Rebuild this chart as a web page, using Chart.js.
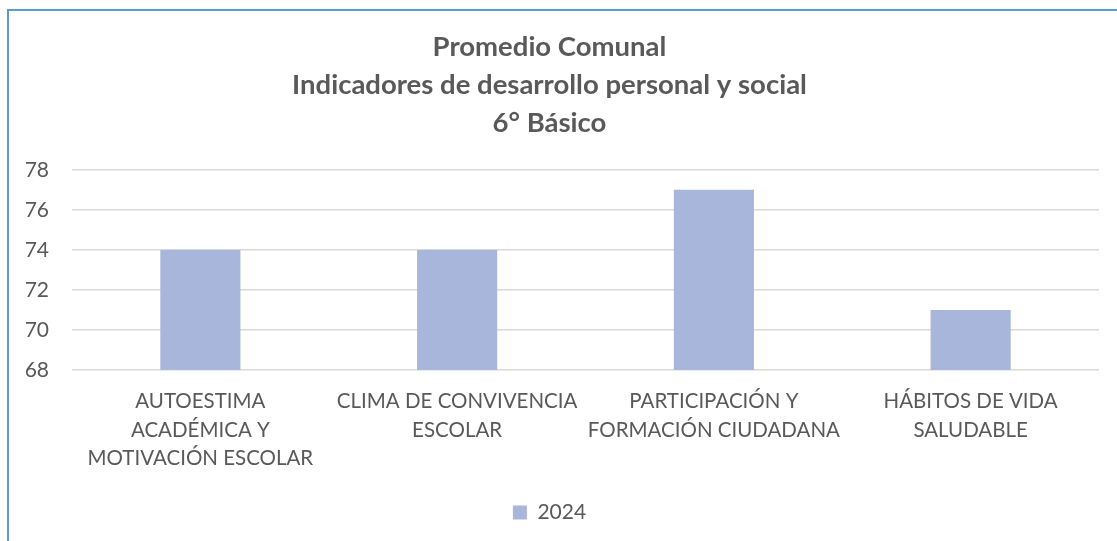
<!DOCTYPE html>
<html>
<head>
<meta charset="utf-8">
<script src="https://cdn.jsdelivr.net/npm/chart.js@4"></script>
<style>
    html, body { margin: 0; padding: 0; background: #fff; }
    #wrap { position: relative; width: 1117px; height: 541px; overflow: hidden; }
    #frame { position: absolute; left: 7px; top: 9px; width: 1200px; height: 600px;
             border-left: 2px solid #5B9BD5; border-top: 2px solid #5B9BD5; }
    #chart { position: absolute; left: 0; top: 0; }
</style>
</head>
<body>
<div id="wrap">
    <div id="frame"></div>
    <canvas id="chart" width="1117" height="541"></canvas>
</div>
<script>
const titleLines = ["Promedio Comunal", "Indicadores de desarrollo personal y social", "6° Básico"];
const categories = [
    ["AUTOESTIMA", "ACADÉMICA Y", "MOTIVACIÓN ESCOLAR"],
    ["CLIMA DE CONVIVENCIA", "ESCOLAR"],
    ["PARTICIPACIÓN Y", "FORMACIÓN CIUDADANA"],
    ["HÁBITOS DE VIDA", "SALUDABLE"]
];
const seriesName = "2024";
const values2024 = [74, 74, 77, 71];
const yMin = 68;
const yMax = 78;
const yStep = 2;

const textColor = "#595959";
const fontFamily = "Lato, 'Open Sans', sans-serif";

const ctx = document.getElementById("chart").getContext("2d");
new Chart(ctx, {
    type: "bar",
    data: {
        labels: categories,
        datasets: [{
            label: seriesName,
            data: values2024,
            backgroundColor: "#A9B6DB",
            barPercentage: 0.312,
            categoryPercentage: 1
        }]
    },
    options: {
        responsive: false,
        animation: false,
        layout: { padding: { left: 0, right: 18, top: 28, bottom: 8 } },
        scales: {
            x: {
                grid: { display: false, drawTicks: false },
                border: { display: false },
                ticks: {
                    color: textColor,
                    font: { family: fontFamily, size: 20.5, lineHeight: 1.4 },
                    padding: 17,
                    maxRotation: 0,
                    autoSkip: false
                },
                afterFit: (scale) => { scale.height = 124; }
            },
            y: {
                min: yMin,
                max: yMax,
                grid: { color: "#D9D9D9", lineWidth: 1.5, drawTicks: false },
                border: { display: false },
                ticks: {
                    stepSize: yStep,
                    color: textColor,
                    font: { family: fontFamily, size: 21 },
                    padding: 23
                },
                afterFit: (scale) => { scale.width = 72; }
            }
        },
        plugins: {
            title: {
                display: true,
                text: titleLines,
                color: textColor,
                font: { family: fontFamily, size: 27.5, weight: "bold", lineHeight: 1.38 },
                padding: { top: 0, bottom: 28 }
            },
            legend: {
                position: "bottom",
                labels: {
                    color: textColor,
                    font: { family: fontFamily, size: 21 },
                    boxWidth: 14,
                    boxHeight: 14,
                    padding: 8
                }
            },
            tooltip: { enabled: false }
        }
    }
});
</script>
</body>
</html>
